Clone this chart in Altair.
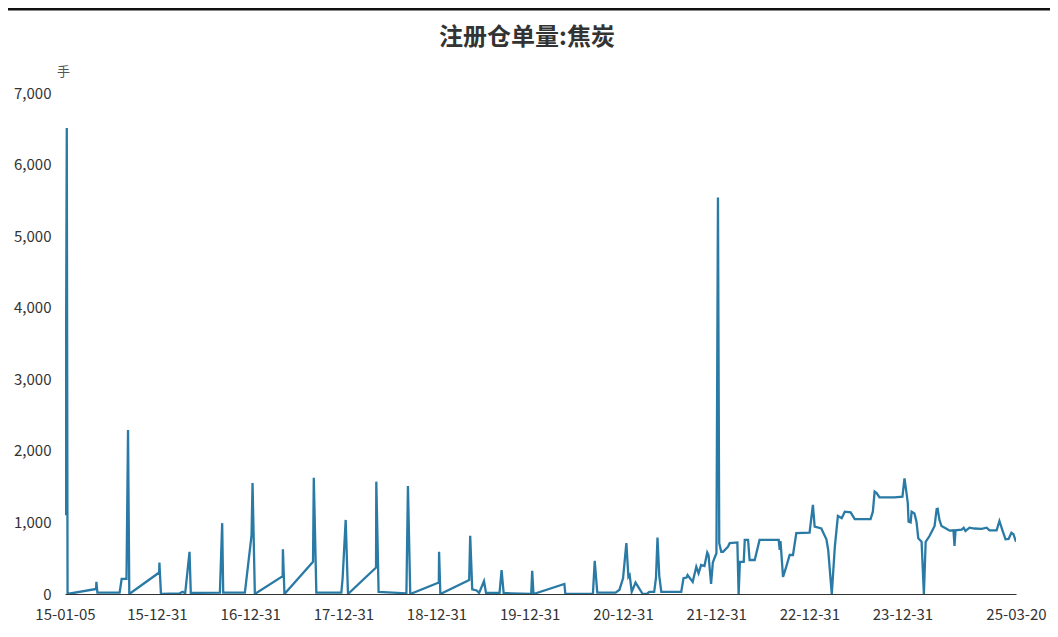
import altair as alt
import pandas as pd

TITLE = "注册仓单量:焦炭"
UNIT = "手"

dates = [
    "2015-01-05", "2015-01-07", "2015-01-12", "2015-01-15",
    "2015-05-07", "2015-05-08", "2015-05-12", "2015-08-07", "2015-08-15", "2015-09-03",
    "2015-09-09", "2015-09-14",
    "2016-01-09", "2016-01-10", "2016-01-16", "2016-03-29", "2016-04-10", "2016-04-20",
    "2016-05-07", "2016-05-12", "2016-09-03", "2016-09-12", "2016-09-16", "2016-12-10",
    "2017-01-05", "2017-01-09", "2017-01-18",
    "2017-05-07", "2017-05-08", "2017-05-14",
    "2017-09-03", "2017-09-06", "2017-09-16", "2017-12-23", "2017-12-28",
    "2018-01-09", "2018-01-18",
    "2018-05-08", "2018-05-09", "2018-05-18", "2018-09-04", "2018-09-10", "2018-09-19",
    "2019-01-09", "2019-01-10", "2019-01-15",
    "2019-05-08", "2019-05-12", "2019-05-20", "2019-06-06", "2019-06-16", "2019-07-05",
    "2019-07-13", "2019-09-04", "2019-09-12", "2019-09-20", "2019-10-19",
    "2020-01-06", "2020-01-10", "2020-01-15",
    "2020-05-15", "2020-05-19", "2020-09-04", "2020-09-11", "2020-09-21",
    "2020-12-02", "2020-12-17", "2020-12-31",
    "2021-01-13", "2021-01-21", "2021-01-26", "2021-02-03", "2021-02-18", "2021-03-18",
    "2021-04-03", "2021-04-13", "2021-05-02", "2021-05-09", "2021-05-15", "2021-05-22",
    "2021-05-30", "2021-08-16", "2021-08-25", "2021-09-06", "2021-09-10", "2021-09-30",
    "2021-10-14", "2021-10-23", "2021-11-02", "2021-11-15", "2021-11-26", "2021-12-01",
    "2021-12-11", "2021-12-18", "2021-12-24", "2022-01-01",
    "2022-01-07", "2022-01-12", "2022-01-20", "2022-01-27", "2022-02-15", "2022-02-22",
    "2022-03-05", "2022-03-24", "2022-03-29", "2022-04-03", "2022-04-18", "2022-04-22",
    "2022-05-05", "2022-05-11", "2022-05-31", "2022-06-19", "2022-09-02", "2022-09-06",
    "2022-09-09", "2022-09-19", "2022-09-29", "2022-10-15", "2022-10-28", "2022-11-10",
    "2023-01-01", "2023-01-14", "2023-01-21", "2023-02-16", "2023-03-08", "2023-03-15",
    "2023-03-29", "2023-04-10", "2023-04-22", "2023-05-07", "2023-05-19", "2023-06-11",
    "2023-06-27", "2023-08-28", "2023-09-06", "2023-09-13", "2023-09-21", "2023-10-02",
    "2023-11-30", "2023-12-31",
    "2024-01-08", "2024-01-16", "2024-01-21", "2024-01-24", "2024-02-01", "2024-02-05",
    "2024-02-16", "2024-02-24", "2024-03-02", "2024-03-15", "2024-03-24", "2024-03-31",
    "2024-04-15", "2024-04-27", "2024-05-05", "2024-05-13", "2024-05-17", "2024-05-24",
    "2024-06-01", "2024-06-17", "2024-07-03", "2024-07-18", "2024-07-22", "2024-07-26",
    "2024-08-19", "2024-08-27", "2024-09-03", "2024-09-19", "2024-10-08", "2024-11-05",
    "2024-11-25", "2024-12-06",
    "2025-01-03", "2025-01-14", "2025-01-26", "2025-02-07", "2025-02-19", "2025-03-02",
    "2025-03-10", "2025-03-20",
]

values = [
    1690, 1100, 6510, 0,
    70, 170, 20, 20, 210, 210,
    2290, 0,
    300, 440, 0, 10, 30, 10,
    590, 15, 20, 990, 20, 20,
    820, 1550, 0,
    250, 625, 0,
    450, 1625, 20, 20, 220,
    1035, 0,
    370, 1570, 30, 10, 1510, 0,
    160, 590, 0,
    195, 815, 65, 50, 15, 180,
    15, 15, 335, 15, 10,
    0, 325, 0,
    140, 0, 5, 465, 20,
    20, 60, 220,
    710, 240, 265, 30, 160, 0,
    0, 30, 30, 220, 790, 250,
    30, 30, 220, 230, 265, 170,
    380, 290, 405, 390, 580, 545,
    140, 440, 500, 570,
    5540, 710, 590, 590, 660, 710,
    715, 720, 0, 450, 450, 755,
    755, 475, 475, 755, 755, 615,
    740, 240, 350, 545, 545, 850,
    857, 1245, 940, 915, 765, 615,
    0, 660, 1090, 1060, 1150, 1140,
    1045, 1045, 1150, 1430, 1410, 1350,
    1350, 1360,
    1615, 1410, 1265, 1010, 1000, 1150,
    1125, 1010, 780, 730, 0, 730,
    810, 895, 950, 1185, 1190, 1035,
    950, 920, 885, 890, 670, 890,
    900, 926, 880, 926, 915, 910,
    926, 890,
    890, 1020, 890, 765, 770, 855,
    835, 730,
]

x_ticks = [
    (2015, 1, 5), (2015, 12, 31), (2016, 12, 31), (2017, 12, 31), (2018, 12, 31),
    (2019, 12, 31), (2020, 12, 31), (2021, 12, 31), (2022, 12, 31), (2023, 12, 31),
    (2025, 3, 20),
]
y_ticks = [0, 1000, 2000, 3000, 4000, 5000, 6000, 7000]

df = pd.DataFrame({"date": dates, "value": values})
title_df = pd.DataFrame({"t": [TITLE]})

FONT = "Noto Sans CJK SC"
W, H = 951, 501
PAD = {"left": 57, "top": 85, "right": 34, "bottom": 30}

tick_dt = [alt.DateTime(year=y, month=m, date=d, utc=True) for (y, m, d) in x_ticks]

line = alt.Chart(df).mark_line(
    color="#2a7aa6", strokeWidth=2.3, interpolate="linear", clip=True
).encode(
    x=alt.X(
        "date:T",
        scale=alt.Scale(
            type="utc",
            domain=[tick_dt[0], tick_dt[-1]],
            nice=False,
        ),
        axis=alt.Axis(
            values=tick_dt,
            labelExpr="utcFormat(datum.value, '%y-%m-%d')",
            title=None,
            grid=False,
            ticks=False,
            domainColor="#333333",
            domainWidth=1,
            labelFont=FONT,
            labelFontSize=15,
            labelColor="#333333",
            labelPadding=13,
            labelFlush=False,
            labelOverlap=False,
        ),
    ),
    y=alt.Y(
        "value:Q",
        scale=alt.Scale(domain=[0, 7000], nice=False),
        axis=alt.Axis(
            values=y_ticks,
            labelExpr="format(datum.value, ',')",
            title=UNIT,
            titleAngle=0,
            titleX=-2,
            titleY=-15,
            titleAlign="center",
            titleFont=FONT,
            titleFontSize=13,
            titleFontWeight="normal",
            titleColor="#555555",
            grid=False,
            ticks=False,
            domain=False,
            labelFont=FONT,
            labelFontSize=15,
            labelColor="#333333",
            labelPadding=14,
        ),
    ),
)

top_bar = alt.Chart(title_df).mark_rule(color="#111111", strokeWidth=3, clip=False).encode(
    x=alt.value(-PAD["left"]),
    x2=alt.value(W + PAD["right"]),
    y=alt.value(-PAD["top"] + 1),
)

title_text = alt.Chart(title_df).mark_text(
    font=FONT,
    fontSize=24,
    fontWeight="bold",
    color="#333333",
    align="center",
    baseline="middle",
    clip=False,
).encode(
    text="t:N",
    x=alt.value(462),
    y=alt.value(-55),
)

chart = alt.layer(top_bar, title_text, line).properties(
    width=W,
    height=H,
    padding=PAD,
    autosize=alt.AutoSizeParams(type="none"),
).configure(background="white").configure_view(stroke=None)

chart.save("out.html", embed_options={"renderer": "svg", "actions": False})
